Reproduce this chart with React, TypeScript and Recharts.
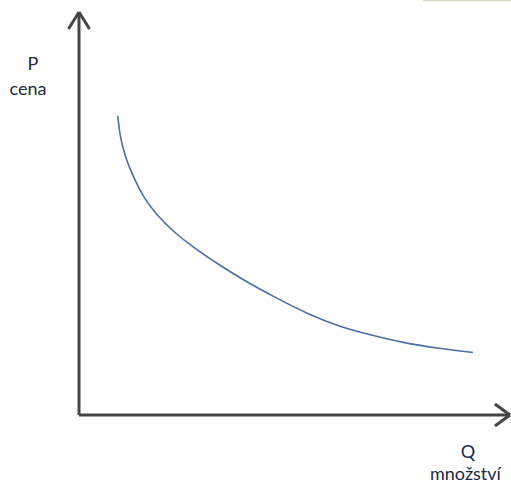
import React from "react";
import { LineChart, Line, XAxis, YAxis, ReferenceLine, Customized } from "recharts";

const qValues = [9.0, 9.5, 10.7, 12.6, 14.9, 18.0, 21.9, 26.5, 32.0, 38.1, 45.1, 53.6, 60.6, 67.5, 75.2, 83.0, 91.4];
const pValues = [74.2, 69.1, 64.1, 59.1, 54.1, 49.6, 45.5, 41.6, 37.6, 33.5, 29.4, 24.8, 21.9, 19.9, 17.9, 16.6, 15.5];
const yLabels = ["P", "cena"];
const xLabels = ["Q", "množství"];

const data = qValues.map((q, i) => ({ q, p: pValues[i] }));

const AXIS = "#454545";
const TEXT = "#222842";
const FONT = "Lato, 'Open Sans', sans-serif";

const Labels = () => (
  <g>
    <line x1={423} y1={0.5} x2={511} y2={0.5} stroke="#d6d6c2" strokeWidth={1.5} />
    <text x={33} y={70} textAnchor="middle" fontFamily={FONT} fontSize={18} fill={TEXT}>{yLabels[0]}</text>
    <text x={28} y={95} textAnchor="middle" fontFamily={FONT} fontSize={18} fill={TEXT}>{yLabels[1]}</text>
    <text x={468} y={458} textAnchor="middle" fontFamily={FONT} fontSize={18} fill={TEXT}>{xLabels[0]}</text>
    <text x={430} y={480} textAnchor="start" fontFamily={FONT} fontSize={18} fill={TEXT}>{xLabels[1]}</text>
  </g>
);

export default function App() {
  return (
    <div style={{ position: "absolute", left: 0, top: 0, width: 511, height: 485, background: "#fff" }}>
      <LineChart width={511} height={485} data={data} margin={{ top: 12, right: 1, bottom: 70, left: 79 }}>
        <XAxis type="number" dataKey="q" domain={[0, 100]} hide />
        <YAxis type="number" domain={[0, 100]} hide />
        <ReferenceLine x={0} stroke={AXIS} strokeWidth={3} ifOverflow="visible" />
        <ReferenceLine y={0} stroke={AXIS} strokeWidth={3} ifOverflow="visible" />
        <ReferenceLine segment={[{ x: 0, y: 100 }, { x: -2.44, y: 95.8 }]} stroke={AXIS} strokeWidth={3} ifOverflow="visible" />
        <ReferenceLine segment={[{ x: 0, y: 100 }, { x: 2.44, y: 95.8 }]} stroke={AXIS} strokeWidth={3} ifOverflow="visible" />
        <ReferenceLine segment={[{ x: 100, y: 0 }, { x: 96.5, y: 2.73 }]} stroke={AXIS} strokeWidth={3} ifOverflow="visible" />
        <ReferenceLine segment={[{ x: 100, y: 0 }, { x: 96.5, y: -2.73 }]} stroke={AXIS} strokeWidth={3} ifOverflow="visible" />
        <Line type="basis" dataKey="p" stroke="#4a6fa5" strokeWidth={1.6} dot={false} isAnimationActive={false} />
        <Customized component={Labels} />
      </LineChart>
    </div>
  );
}
